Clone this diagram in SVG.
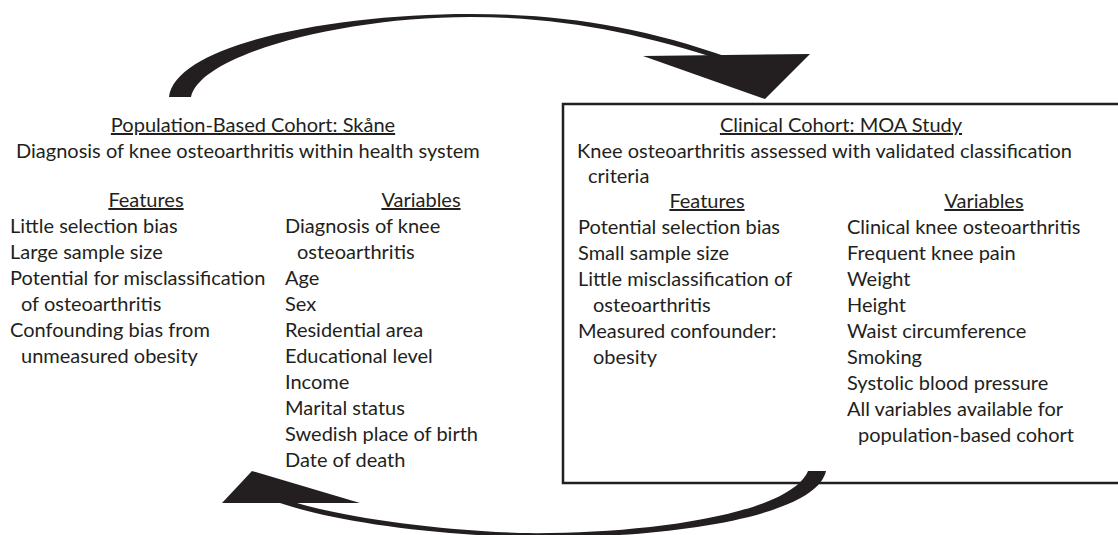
<svg xmlns="http://www.w3.org/2000/svg" width="1118" height="535" viewBox="0 0 1118 535">
<style>
text{font-family:Lato,"Open Sans","Liberation Sans",sans-serif;font-size:20px;fill:#231f20}
.u{text-decoration:underline}
.m{text-anchor:middle}
.arrow{fill:#231f20;stroke:none}
.box{fill:none;stroke:#231f20;stroke-width:2.5}
</style>
<rect width="1118" height="535" fill="#fff"/>
<g id="connectors">
<path class="arrow" d="M169,97 C175,45 330,14 470,14 C560,14 640,26 730,58 L725,61 C640,33 560,17 470,17 C340,17 200,55 191,97 Z"/>
<polygon class="arrow" points="643,56 810,54 765,99"/>
<path class="arrow" d="M826,471 C815,520 650,540 520,537 C420,534 330,520 280,503 L297,503 C340,516 430,530 520,533 C640,535 790,515 808,471 Z"/>
<polygon class="arrow" points="252,471 222,503 360,503"/>
</g>
<g id="population-cohort">
<text class="u m" x="253" y="132">Population-Based Cohort: Skåne</text>
<text x="16" y="158">Diagnosis of knee osteoarthritis within health system</text>
<text class="u m" x="146" y="207">Features</text>
<text class="u m" x="421" y="207">Variables</text>
<text x="10" y="233">Little selection bias</text>
<text x="10" y="259">Large sample size</text>
<text x="10" y="285">Potential for misclassification</text>
<text x="21" y="311">of osteoarthritis</text>
<text x="10" y="337">Confounding bias from</text>
<text x="21" y="363">unmeasured obesity</text>
<text x="285" y="233">Diagnosis of knee</text>
<text x="297" y="259">osteoarthritis</text>
<text x="285" y="285">Age</text>
<text x="285" y="311">Sex</text>
<text x="285" y="337">Residential area</text>
<text x="285" y="363">Educational level</text>
<text x="285" y="389">Income</text>
<text x="285" y="415">Marital status</text>
<text x="285" y="441">Swedish place of birth</text>
<text x="285" y="467">Date of death</text>
</g>
<g id="clinical-cohort">
<rect class="box" x="563" y="104" width="570" height="379"/>
<text class="u m" x="841" y="132">Clinical Cohort: MOA Study</text>
<text x="577" y="158">Knee osteoarthritis assessed with validated classification</text>
<text x="588" y="183">criteria</text>
<text class="u m" x="707" y="208">Features</text>
<text class="u m" x="984" y="208">Variables</text>
<text x="578" y="234">Potential selection bias</text>
<text x="578" y="260">Small sample size</text>
<text x="578" y="286">Little misclassification of</text>
<text x="593" y="312">osteoarthritis</text>
<text x="578" y="338">Measured confounder:</text>
<text x="593" y="364">obesity</text>
<text x="847" y="234">Clinical knee osteoarthritis</text>
<text x="847" y="260">Frequent knee pain</text>
<text x="847" y="286">Weight</text>
<text x="847" y="312">Height</text>
<text x="847" y="338">Waist circumference</text>
<text x="847" y="364">Smoking</text>
<text x="847" y="390">Systolic blood pressure</text>
<text x="847" y="416">All variables available for</text>
<text x="858" y="442">population-based cohort</text>
</g>
</svg>
